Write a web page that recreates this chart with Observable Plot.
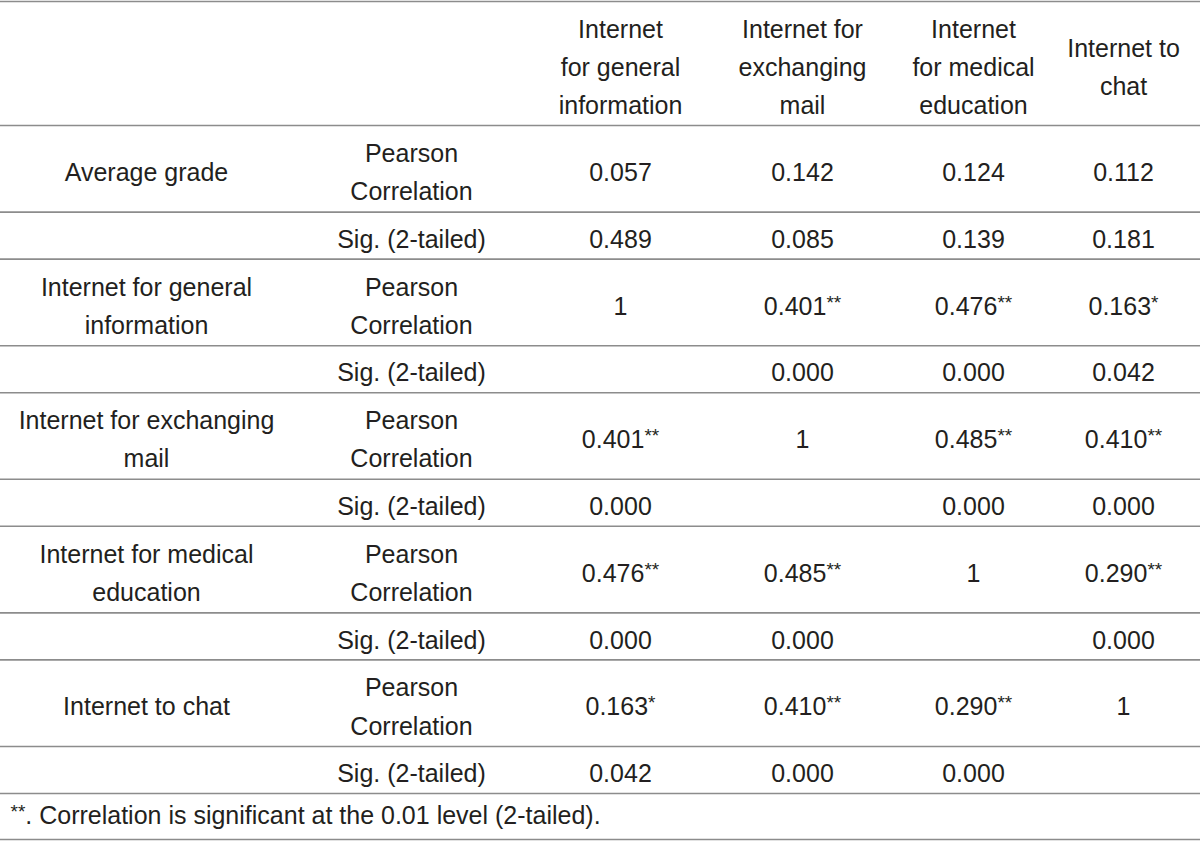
<!DOCTYPE html>
<html>
<head>
<meta charset="utf-8">
<script src="https://cdn.jsdelivr.net/npm/d3@7"></script>
<script src="https://cdn.jsdelivr.net/npm/@observablehq/plot@0.6"></script>
<style>
  html, body { margin: 0; padding: 0; background: #fff; }
  #chart svg { display: block; }
</style>
</head>
<body>
<div id="chart"></div>
<script>
// ---- data ----
const rowLabels = [
  "Average grade",
  "Internet for general\ninformation",
  "Internet for exchanging\nmail",
  "Internet for medical\neducation",
  "Internet to chat"
];
const colLabels = [
  "Internet\nfor general\ninformation",
  "Internet for\nexchanging\nmail",
  "Internet\nfor medical\neducation",
  "Internet to\nchat"
];
const statLabels = ["Pearson\nCorrelation", "Sig. (2-tailed)"];
const pearson = [
  [0.057, 0.142, 0.124, 0.112],
  [1, 0.401, 0.476, 0.163],
  [0.401, 1, 0.485, 0.410],
  [0.476, 0.485, 1, 0.290],
  [0.163, 0.410, 0.290, 1]
];
const sig = [
  [0.489, 0.085, 0.139, 0.181],
  [null, 0.000, 0.000, 0.042],
  [0.000, null, 0.000, 0.000],
  [0.000, 0.000, null, 0.000],
  [0.042, 0.000, 0.000, null]
];
const stars = [
  ["", "", "", ""],
  ["", "**", "**", "*"],
  ["**", "", "**", "**"],
  ["**", "**", "", "**"],
  ["*", "**", "**", ""]
];
const footnote = "**. Correlation is significant at the 0.01 level (2-tailed).";

// ---- layout (row heights in px-like units) ----
const H_HEADER = 124, H_PEARSON = 86.5, H_SIG = 47, H_FOOT = 46;
const rows = [];
let cursor = 0;
function addRow(kind, h, extra) {
  const r = Object.assign({kind, top: cursor, bottom: cursor + h, mid: cursor + h / 2}, extra);
  rows.push(r);
  cursor += h;
  return r;
}
const headerRow = addRow("header", H_HEADER);
const varRows = rowLabels.map((_, i) => ({
  p: addRow("pearson", H_PEARSON, {i}),
  s: addRow("sig", H_SIG, {i})
}));
const footRow = addRow("foot", H_FOOT);
const total = cursor;
const boundaries = [0, ...rows.map(r => r.bottom)];

const fmt = v => v === 1 ? "1" : v.toFixed(3);

const cells = [];
colLabels.forEach((c, j) => cells.push({col: 2 + j, y: headerRow.mid, text: c}));
rowLabels.forEach((lab, i) => {
  const {p, s} = varRows[i];
  cells.push({col: 0, y: p.mid, text: lab});
  cells.push({col: 1, y: p.mid, text: statLabels[0]});
  cells.push({col: 1, y: s.mid, text: statLabels[1]});
  pearson[i].forEach((v, j) => cells.push({col: 2 + j, y: p.mid, text: fmt(v) + stars[i][j]}));
  sig[i].forEach((v, j) => { if (v !== null) cells.push({col: 2 + j, y: s.mid, text: fmt(v)}); });
});

const FONT = "'Liberation Sans', Arial, sans-serif";
const INK = "#231f20";

const chart = Plot.plot({
  width: 1200,
  height: 841,
  marginTop: 1,
  marginBottom: 2,
  marginLeft: 0,
  marginRight: 0,
  style: {fontFamily: FONT, background: "#fff"},
  x: {type: "linear", domain: [0, 1, 2, 3, 4, 5], range: [146, 411, 620, 802, 973, 1123], axis: null},
  y: {type: "linear", domain: [0, total], range: [1, 839], axis: null},
  marks: [
    Plot.ruleY(boundaries, {y: d => d, stroke: "#8c8c8c", strokeWidth: 1.6}),
    Plot.text(cells, {
      x: "col", y: "y", text: "text",
      fontSize: 25, lineHeight: 1.53, lineAnchor: "middle",
      textAnchor: "middle", fill: INK
    }),
    Plot.text([footnote], {
      y: [footRow.mid], text: d => d, frameAnchor: "left", dx: 10,
      fontSize: 25, lineAnchor: "middle", textAnchor: "start", fill: INK
    })
  ]
});

// superscript the significance asterisks
d3.select(chart).selectAll("text").each(function () {
  const el = this;
  if (el.querySelector("tspan")) return;
  const t = el.textContent;
  if (!t.includes("*")) return;
  const parts = t.match(/\*+|[^*]+/g);
  el.textContent = "";
  let raised = false;
  parts.forEach(part => {
    const ts = document.createElementNS("http://www.w3.org/2000/svg", "tspan");
    ts.textContent = part;
    if (part[0] === "*") {
      ts.setAttribute("font-size", "19");
      ts.setAttribute("dy", raised ? "0" : "-6");
      raised = true;
    } else if (raised) {
      ts.setAttribute("dy", "6");
      raised = false;
    }
    el.appendChild(ts);
  });
});

document.getElementById("chart").appendChild(chart);
</script>
</body>
</html>
